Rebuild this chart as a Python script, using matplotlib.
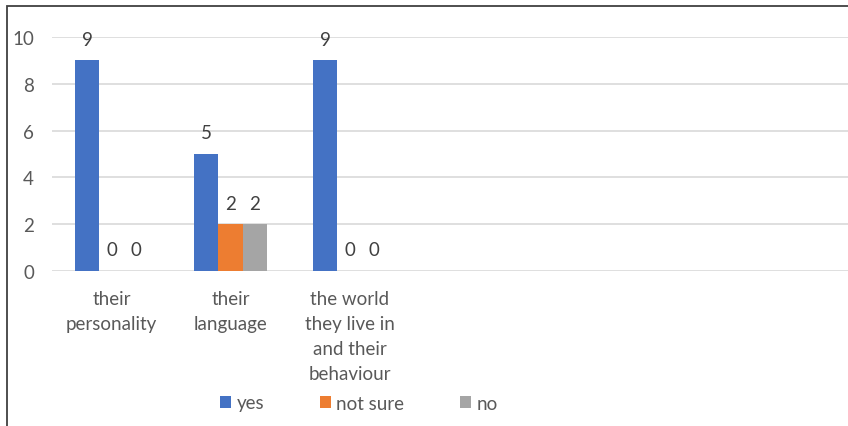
import matplotlib
matplotlib.use("Agg")
import matplotlib.pyplot as plt
from matplotlib.patches import Rectangle, Patch
import numpy as np

plt.rcParams['font.family'] = ['Lato', 'DejaVu Sans']

categories = ["their\npersonality", "their\nlanguage", "the world\nthey live in\nand their\nbehaviour"]
series_names = ["yes", "not sure", "no"]
yes_vals = [9, 5, 9]
notsure_vals = [0, 2, 0]
no_vals = [0, 2, 0]
yticks = [0, 2, 4, 6, 8, 10]

colors = ["#4472C4", "#ED7D31", "#A5A5A5"]
text_color = "#595959"

W, H = 848, 427
fig = plt.figure(figsize=(W / 100, H / 100), dpi=100)
ax = fig.add_axes([52 / W, 1 - 272 / H, 1 - 52 / W, (272 - 38) / H])

x = np.arange(len(categories))
bw = 0.206
fs = 13.5
for k, (vals, name, c) in enumerate(zip([yes_vals, notsure_vals, no_vals], series_names, colors)):
    pos = x + (k - 1) * bw
    ax.bar(pos, vals, width=bw, color=c, label=name, zorder=3)
    for p, v in zip(pos, vals):
        ax.annotate(str(v), xy=(p, v), xytext=(0, 9), textcoords="offset points",
                    ha="center", va="bottom", fontsize=fs, color="#404040")

ax.set_ylim(0, 10)
ax.set_xlim(-0.5, -0.5 + (W - 52) / 119)
ax.set_yticks(yticks)
ax.set_xticks(x)
ax.set_xticklabels(categories, fontsize=fs, color=text_color, linespacing=1.56, va="top")
ax.tick_params(axis="x", length=0, pad=14)
ax.tick_params(axis="y", length=0, pad=13, labelsize=fs, labelcolor=text_color)
ax.grid(axis="y", color="#D9D9D9", linewidth=1.2, zorder=0)
for s in ax.spines.values():
    s.set_visible(False)

handles = [Patch(facecolor=c, edgecolor="none") for c in colors]
fig.legend(handles, series_names, loc="center", bbox_to_anchor=(359 / W, 1 - 404 / H),
           ncol=3, frameon=False, fontsize=fs, handlelength=0.55, handleheight=0.55,
           handletextpad=0.3, columnspacing=3.0, labelcolor=text_color)

fig.patches.append(Rectangle((6.5 / W, -0.1), 1.2, 1.1 - 6.5 / H, transform=fig.transFigure,
                             fill=False, edgecolor="#404040", linewidth=1.3))

fig.savefig("out.png", dpi=100)
